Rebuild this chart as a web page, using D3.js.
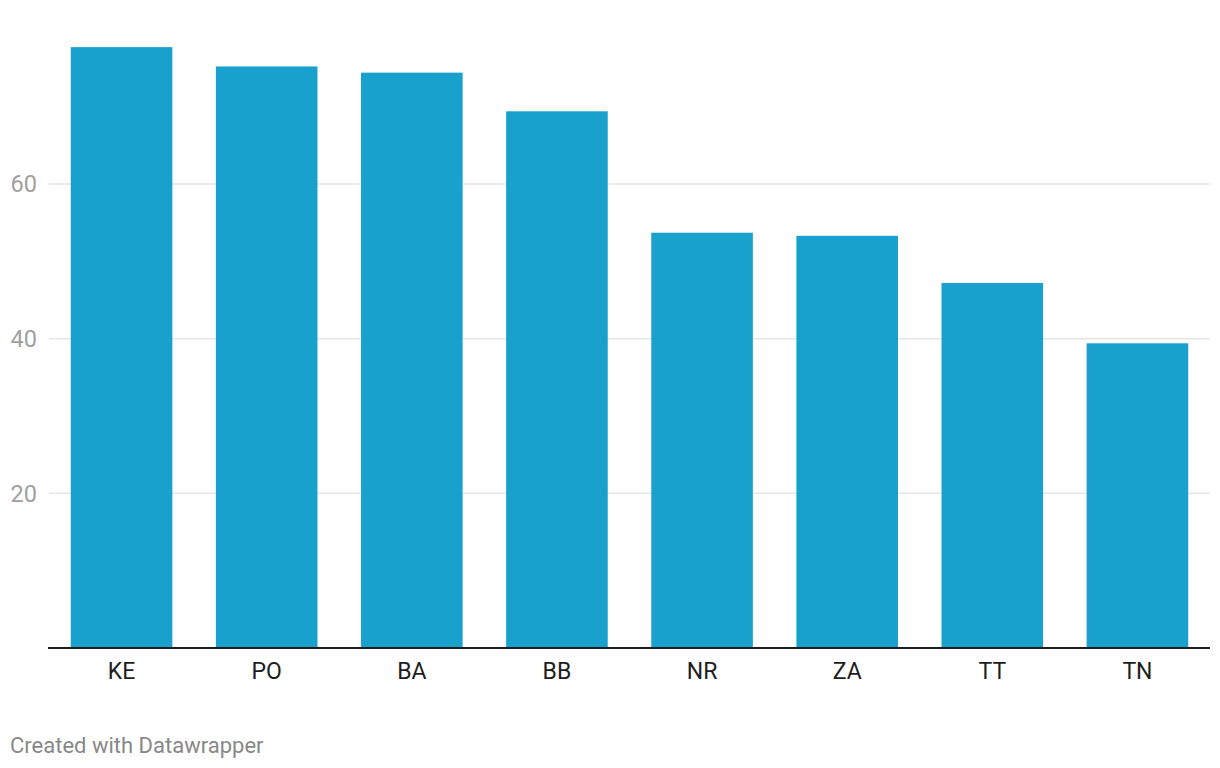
<!DOCTYPE html>
<html>
<head>
<meta charset="utf-8">
<script src="https://cdn.jsdelivr.net/npm/d3@7"></script>
<style>
  body { margin: 0; background: #fff; font-family: Roboto, "Noto Sans", sans-serif; }
</style>
</head>
<body>
<div id="chart"></div>
<script>
var width = 1220,
    height = 768;

// values
var categories = ["KE", "PO", "BA", "BB", "NR", "ZA", "TT", "TN"];
var values = [77.7, 75.2, 74.4, 69.4, 53.7, 53.3, 47.2, 39.4];
var yTicks = [20, 40, 60];

var margin = {top: 0, right: 10, bottom: 120, left: 49};

var svg = d3.select("#chart").append("svg")
    .attr("width", width)
    .attr("height", height);

var x = d3.scaleBand()
    .domain(categories)
    .range([margin.left, width - margin.right])
    .paddingInner(0.3)
    .paddingOuter(0.15);

var y = d3.scaleLinear()
    .domain([0, 60])
    .range([648, 184]);

// gridlines + labels
var grid = svg.append("g").attr("class", "grid");
grid.selectAll("line")
  .data(yTicks)
  .enter().append("line")
    .attr("x1", margin.left)
    .attr("x2", width - margin.right)
    .attr("y1", function(d) { return y(d); })
    .attr("y2", function(d) { return y(d); })
    .attr("stroke", "#e5e5e5")
    .attr("stroke-width", 1.5);

grid.selectAll("text")
  .data(yTicks)
  .enter().append("text")
    .attr("x", 37)
    .attr("y", function(d) { return y(d); })
    .attr("dy", "0.35em")
    .attr("text-anchor", "end")
    .attr("fill", "#a0a0a0")
    .style("font-size", "23.5px")
    .text(function(d) { return d; });

svg.selectAll("rect.bar")
  .data(values)
  .enter().append("rect")
    .attr("class", "bar")
    .attr("x", function(d, i) { return x(categories[i]); })
    .attr("width", x.bandwidth())
    .attr("y", function(d) { return y(d); })
    .attr("height", function(d) { return y(0) - y(d); })
    .attr("fill", "#18a1cd");

// baseline
svg.append("line")
    .attr("x1", margin.left - 1)
    .attr("x2", width - margin.right)
    .attr("y1", y(0))
    .attr("y2", y(0))
    .attr("stroke", "#1d1d1d")
    .attr("stroke-width", 2);

var xAxis = d3.axisBottom(x).tickSize(0).tickPadding(15);
var gx = svg.append("g")
    .attr("transform", "translate(0," + y(0) + ")")
    .call(xAxis);
gx.select(".domain").remove();
gx.selectAll("text")
    .attr("fill", "#1d1d1d")
    .style("font-family", "Roboto, sans-serif")
    .style("font-size", "23px");

svg.append("text")
    .attr("x", 10)
    .attr("y", 753)
    .attr("fill", "#888")
    .style("font-size", "22px")
    .text("Created with Datawrapper");
</script>
</body>
</html>
